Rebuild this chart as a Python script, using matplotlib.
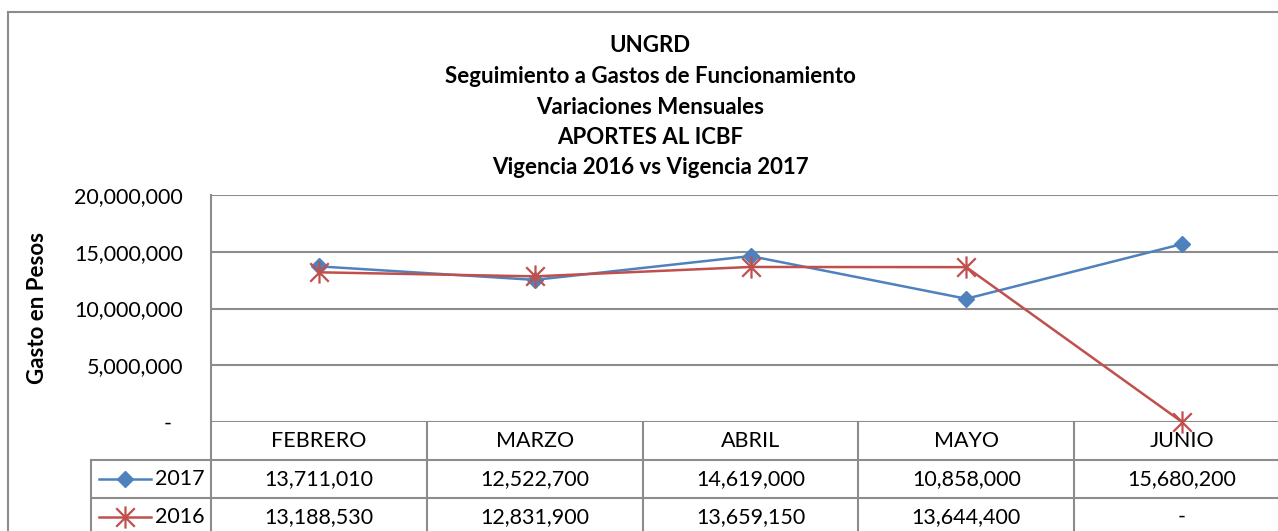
import matplotlib
matplotlib.use("Agg")
import matplotlib.pyplot as plt
import matplotlib.transforms as mtransforms
from matplotlib.path import Path
from matplotlib.lines import Line2D
from matplotlib.ticker import FuncFormatter

# data
months = ["FEBRERO", "MARZO", "ABRIL", "MAYO", "JUNIO"]
gasto_2017 = [13711010, 12522700, 14619000, 10858000, 15680200]
gasto_2016 = [13188530, 12831900, 13659150, 13644400, 0]
y_ticks = [0, 5000000, 10000000, 15000000, 20000000]

title_lines = ["UNGRD",
               "Seguimiento a Gastos de Funcionamiento",
               "Variaciones Mensuales",
               "APORTES AL ICBF",
               "Vigencia 2016 vs Vigencia 2017"]

BLUE = "#4F81BD"
RED = "#C0504D"
GRID = "#8C8C8C"
W, H = 1278, 531
FS = 15.5

plt.rcParams["font.family"] = ["Lato", "DejaVu Sans"]


def fmt(v):
    return "-" if v == 0 else f"{v:,.0f}"


# star marker like Excel: x plus vertical bar
star = Path([(-1, -1), (1, 1), (-1, 1), (1, -1), (0, -1.2), (0, 1.2)],
            [Path.MOVETO, Path.LINETO, Path.MOVETO, Path.LINETO, Path.MOVETO, Path.LINETO])

fig = plt.figure(figsize=(W / 100, H / 100), dpi=100)

# plot area in pixels (top-based)
left, right, top, bottom = 211, 1290, 195, 422
ax = fig.add_axes([left / W, 1 - bottom / H, (right - left) / W, (bottom - top) / H])

x = list(range(len(months)))
ax.plot(x, gasto_2017, color=BLUE, lw=1.8, marker="D", ms=8, mec=BLUE, mfc=BLUE, zorder=3)
ax.plot(x, gasto_2016, color=RED, lw=1.8, marker=star, ms=16, mew=1.6, mec=RED, zorder=4,
        clip_on=False)

ax.set_xlim(-0.5, len(months) - 0.5)
ax.set_ylim(0, 20000000)
ax.set_yticks(y_ticks)
ax.yaxis.set_major_formatter(FuncFormatter(lambda v, p: fmt(v)))
ax.tick_params(axis="y", length=0, pad=20, labelsize=FS)
ax.set_xticks([])
ax.grid(axis="y", color=GRID, lw=1.5)
ax.set_axisbelow(True)
for s in ["top", "right", "bottom"]:
    ax.spines[s].set_visible(False)
ax.spines["left"].set_color(GRID)
ax.spines["left"].set_linewidth(1.5)
# the zero tick label sits a bit left in Excel's accounting format
ax.get_yticklabels()[0].set_x(-0.0105)

ax.set_ylabel("Gasto en Pesos", fontsize=16, fontweight="bold")
ax.yaxis.set_label_coords(-(left - 48) / (right - left), 0.5)

# titles
for i, t in enumerate(title_lines):
    fig.text(650 / W, 1 - (46 + i * 30.5) / H, t, ha="center", va="center",
             fontsize=16, fontweight="bold")

# chart frame
fig.add_artist(Line2D([8 / W, 8 / W], [0, 1 - 12 / H], transform=fig.transFigure,
                      color=GRID, lw=1.5))
fig.add_artist(Line2D([8 / W, 1], [1 - 12 / H, 1 - 12 / H], transform=fig.transFigure,
                      color=GRID, lw=1.5))

# data table below the plot (x in data units, y in figure fraction)
tr = mtransforms.blended_transform_factory(ax.transData, fig.transFigure)
row_tops = [422, 460, 498, 536]


def fy(py):
    return 1 - py / H


for py in row_tops[1:]:
    fig.add_artist(Line2D([-0.5, len(months) - 0.5], [fy(py), fy(py)], transform=tr,
                          color=GRID, lw=1.5, clip_on=False))
for k in range(len(months) + 1):
    fig.add_artist(Line2D([k - 0.5, k - 0.5], [fy(422), fy(540)], transform=tr,
                          color=GRID, lw=1.5, clip_on=False))

# legend key cells
for py in row_tops[1:]:
    fig.add_artist(Line2D([91 / W, left / W], [fy(py), fy(py)], transform=fig.transFigure,
                          color=GRID, lw=1.5))
fig.add_artist(Line2D([91 / W, 91 / W], [fy(460), fy(540)], transform=fig.transFigure,
                      color=GRID, lw=1.5))

for i, m in enumerate(months):
    fig.text(i, fy(441), m, transform=tr, ha="center", va="center", fontsize=FS)

series = [("2017", gasto_2017, BLUE, "D", 8, 1.0), ("2016", gasto_2016, RED, star, 16, 1.6)]
for r, (name, vals, col, mk, ms, mew) in enumerate(series):
    yc = fy(479 + r * 38)
    fig.add_artist(Line2D([99 / W, 151 / W], [yc, yc], transform=fig.transFigure,
                          color=col, lw=1.8))
    fig.add_artist(Line2D([125 / W], [yc], transform=fig.transFigure, marker=mk, ms=ms,
                          mew=mew, color=col, mec=col, mfc=col, linestyle="none"))
    fig.text(155 / W, yc, name, ha="left", va="center", fontsize=FS)
    for i, v in enumerate(vals):
        fig.text(i, yc, fmt(v), transform=tr, ha="center", va="center", fontsize=FS)

fig.savefig("out.png", dpi=100)
